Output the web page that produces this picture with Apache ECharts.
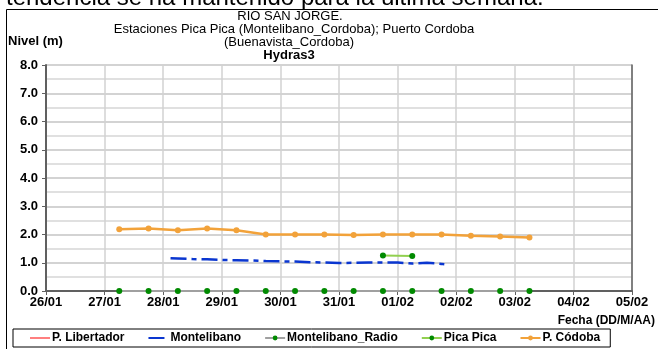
<!DOCTYPE html>
<html>
<head>
<meta charset="utf-8">
<script src="https://cdn.jsdelivr.net/npm/echarts@6/dist/echarts.min.js"></script>
<style>
  html, body { margin: 0; padding: 0; background: #fff; }
  #chart { width: 658px; height: 349px; }
</style>
</head>
<body>
<div id="chart"></div>
<script>
// Río San Jorge water levels (m), stations Pica Pica and Puerto Córdoba
const startDate = '2011-01-26T00:00';

// P. Códoba readings (06:00 and 18:00)
const cordobaTimes = [
  '2011-01-27T06:00', '2011-01-27T18:00', '2011-01-28T06:00', '2011-01-28T18:00',
  '2011-01-29T06:00', '2011-01-29T18:00', '2011-01-30T06:00', '2011-01-30T18:00',
  '2011-01-31T06:00', '2011-01-31T18:00', '2011-02-01T06:00', '2011-02-01T18:00',
  '2011-02-02T06:00', '2011-02-02T18:00', '2011-02-03T06:00'
];
const cordobaLevels = [2.19, 2.21, 2.15, 2.21, 2.15, 2.00, 2.00, 2.00, 1.98, 2.00, 2.00, 2.00, 1.96, 1.93, 1.89];

// Montelibano_Radio readings (same schedule)
const radioTimes = cordobaTimes;
const radioLevels = [0, 0, 0, 0, 0, 0, 0, 0, 0, 0, 0, 0, 0, 0, 0];

// Pica Pica readings
const picaTimes = ['2011-01-31T18:00', '2011-02-01T06:00'];
const picaLevels = [1.26, 1.24];

// Montelibano telemetry
const monteTimes = [
  '2011-01-28T03:00', '2011-01-28T06:00', '2011-01-28T12:00', '2011-01-28T18:00',
  '2011-01-29T00:00', '2011-01-29T06:00', '2011-01-29T12:00', '2011-01-29T18:00',
  '2011-01-30T00:00', '2011-01-30T06:00', '2011-01-30T12:00', '2011-01-30T18:00',
  '2011-01-31T00:00', '2011-01-31T06:00', '2011-01-31T12:00', '2011-01-31T18:00',
  '2011-02-01T00:00', '2011-02-01T06:00', '2011-02-01T12:00', '2011-02-01T18:00',
  '2011-02-01T21:00'
];
const monteLevels = [1.16, 1.15, 1.13, 1.12, 1.10, 1.09, 1.08, 1.06, 1.05, 1.04, 1.02, 1.01,
                     0.99, 1.00, 1.01, 1.01, 1.01, 0.97, 1.00, 0.96, 0.93];

// P. Libertador: no readings in this period
const libertadorTimes = [];
const libertadorLevels = [];

const seriesNames = ['P. Libertador', 'Montelibano', 'Montelibano_Radio', 'Pica Pica', 'P. Códoba'];
const yTicks = ['0.0', '1.0', '2.0', '3.0', '4.0', '5.0', '6.0', '7.0', '8.0'];

const DAY = 86400000;
const t0 = Date.parse(startDate + ':00Z');
const toDays = s => (Date.parse(s + ':00Z') - t0) / DAY;
const pairs = (times, vals) => times.map((t, i) => [toDays(t), vals[i]]);
const pad = n => (n < 10 ? '0' : '') + n;
const dayLabel = v => {
  const d = new Date(t0 + v * DAY);
  return pad(d.getUTCDate()) + '/' + pad(d.getUTCMonth() + 1);
};

const FONT = 'Liberation Sans, Arial, sans-serif';
const chart = echarts.init(document.getElementById('chart'), null, { renderer: 'canvas' });

const titleLine = (text, x, top, weight) => ({
  text, left: x, top, textAlign: 'center', padding: 0,
  textStyle: { fontSize: 13, fontWeight: weight, color: '#000', fontFamily: FONT }
});

chart.setOption({
  animation: false,
  backgroundColor: '#ffffff',
  textStyle: { fontFamily: FONT },
  title: [
    titleLine('RIO SAN JORGE.', 290, 10, 'normal'),
    titleLine('Estaciones Pica Pica (Montelibano_Cordoba); Puerto Cordoba', 294, 23, 'normal'),
    titleLine('(Buenavista_Cordoba)', 289, 36, 'normal'),
    titleLine('Hydras3', 289, 49, 'bold')
  ],
  graphic: [
    { type: 'text', x: 6, y: -2, z: 10,
      style: { text: 'tendencia se ha mantenido para la última semana.', font: '24px ' + FONT,
               fill: '#000', verticalAlign: 'middle' } },
    { type: 'rect', shape: { x: 6.5, y: 9.5, width: 700, height: 400 },
      style: { fill: 'none', stroke: '#000', lineWidth: 1 }, silent: true },
    { type: 'text', x: 8, y: 41,
      style: { text: 'Nivel (m)', font: 'bold 13px ' + FONT, fill: '#000', verticalAlign: 'middle' } },
    { type: 'text', x: 655, y: 321,
      style: { text: 'Fecha (DD/M/AA)', font: 'bold 12px ' + FONT, fill: '#000',
               align: 'right', verticalAlign: 'middle' } }
  ],
  legend: {
    data: [
      { name: seriesNames[0], itemStyle: { opacity: 0 } },
      { name: seriesNames[1], itemStyle: { opacity: 0 } },
      { name: seriesNames[2] },
      { name: seriesNames[3] },
      { name: seriesNames[4] }
    ],
    left: 13, top: 329,
    padding: [3, 10, 3, 16],
    itemGap: 23,
    itemWidth: 20, itemHeight: 6,
    borderColor: '#000', borderWidth: 1, borderRadius: 0,
    textStyle: { fontSize: 12, fontWeight: 'bold', color: '#000', fontFamily: FONT, padding: [0, 0, 0, -3] }
  },
  grid: { left: 46, right: 26, top: 65, bottom: 58, containLabel: false },
  xAxis: {
    type: 'value', min: 0, max: 10, interval: 1,
    axisLine: { show: true, onZero: false, lineStyle: { color: '#606060', width: 2 } },
    axisTick: { show: true, length: 4, lineStyle: { color: '#606060', width: 1 } },
    axisLabel: { formatter: dayLabel, fontSize: 13, fontWeight: 'bold', color: '#000', margin: 5, fontFamily: FONT },
    splitLine: { show: true, lineStyle: { color: '#d2d2d2', width: 1.5 } }
  },
  yAxis: [{
    type: 'value', min: 0, max: 8, interval: 1,
    axisLine: { show: true, lineStyle: { color: '#606060', width: 2 } },
    axisTick: { show: true, length: 4, lineStyle: { color: '#606060', width: 1 } },
    axisLabel: { formatter: v => yTicks[Math.round(v)], fontSize: 13, fontWeight: 'bold', color: '#000', margin: 8, fontFamily: FONT },
    splitLine: { show: true, lineStyle: { color: '#c4c4c4', width: 1.5 } },
    minorTick: { show: false, splitNumber: 2 },
    minorSplitLine: { show: true, lineStyle: { color: '#d6d6d6', width: 1.5 } }
  }, {
    type: 'value', min: 0, max: 8, interval: 1, position: 'right',
    axisLine: { show: true, lineStyle: { color: '#606060', width: 1.5 } },
    axisTick: { show: false }, axisLabel: { show: false }, splitLine: { show: false }
  }],
  series: [
    { name: seriesNames[0], type: 'line', data: pairs(libertadorTimes, libertadorLevels),
      symbol: 'none', color: '#ff7f7f', lineStyle: { color: '#ff7f7f', width: 2 } },
    { name: seriesNames[1], type: 'line', data: pairs(monteTimes, monteLevels),
      symbol: 'none', color: '#0a36d0',
      lineStyle: { color: '#0a36d0', width: 2.5, type: [16, 5, 5, 5] } },
    { name: seriesNames[2], type: 'line', data: pairs(radioTimes, radioLevels), clip: false,
      symbol: 'circle', symbolSize: 6, color: '#008a00',
      lineStyle: { color: '#a0a0a0', width: 2 }, itemStyle: { color: '#008a00' } },
    { name: seriesNames[3], type: 'line', data: pairs(picaTimes, picaLevels),
      symbol: 'circle', symbolSize: 6, color: '#008a00',
      lineStyle: { color: '#92d050', width: 2 }, itemStyle: { color: '#008a00' } },
    { name: seriesNames[4], type: 'line', data: pairs(cordobaTimes, cordobaLevels),
      symbol: 'circle', symbolSize: 6, color: '#f2a23a',
      lineStyle: { color: '#f2a23a', width: 2.5 }, itemStyle: { color: '#f2a23a' } }
  ]
});
</script>
</body>
</html>
